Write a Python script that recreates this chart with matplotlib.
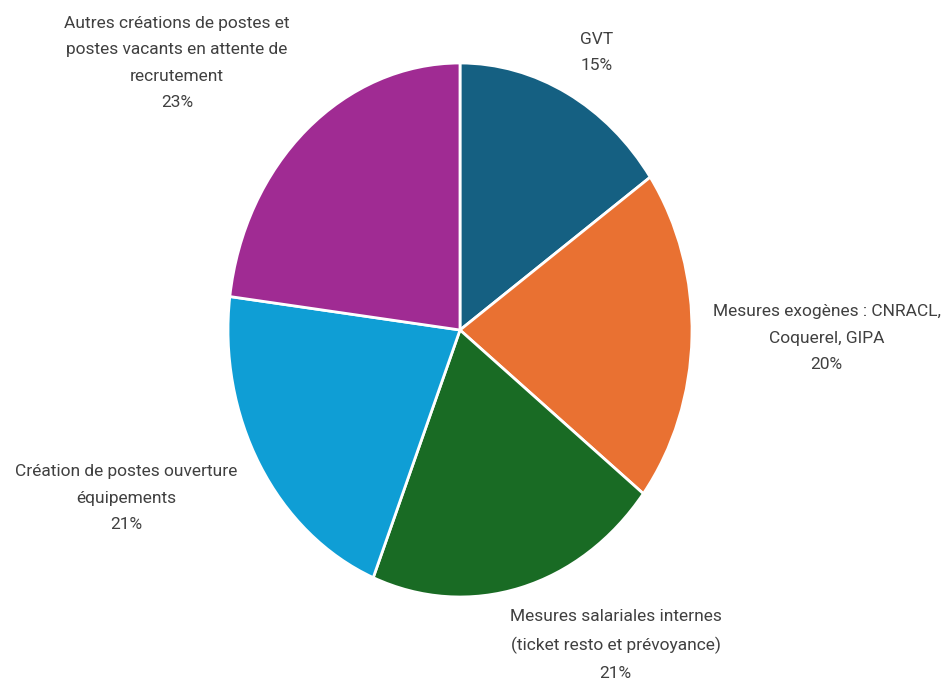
import matplotlib.pyplot as plt

labels = [
    "GVT",
    "Mesures exogènes : CNRACL,\nCoquerel, GIPA",
    "Mesures salariales internes\n(ticket resto et prévoyance)",
    "Création de postes ouverture\néquipements",
    "Autres créations de postes et\npostes vacants en attente de\nrecrutement",
]
values = [15.3, 20.2, 20.6, 20.9, 23.0]
colors = ["#156082", "#E97132", "#196B24", "#0F9ED5", "#A02B93"]

# label anchor positions (data coords of the pie axes)
label_pos = [(0.59, 1.04), (1.58, -0.03), (0.67, -1.18), (-1.44, -0.63), (-1.22, 1.0)]

W, H = 944, 679
fig = plt.figure(figsize=(W / 100, H / 100), dpi=100)
# pie is drawn slightly squashed horizontally, like the original
ax = fig.add_axes([228 / W, (H - 597) / H, 464 / W, 534 / H])
ax.pie(values, colors=colors, startangle=90, counterclock=False,
       wedgeprops=dict(edgecolor="white", linewidth=2))
ax.set_aspect("auto")
ax.set_xlim(-1, 1)
ax.set_ylim(-1, 1)

total = sum(values)
for lab, v, (x, y) in zip(labels, values, label_pos):
    ax.text(x, y, f"{lab}\n{round(100 * v / total)}%", ha="center", va="center",
            fontsize=12.5, color="#404040", family="Roboto", linespacing=1.95,
            clip_on=False)

fig.savefig("out.png", dpi=100)
